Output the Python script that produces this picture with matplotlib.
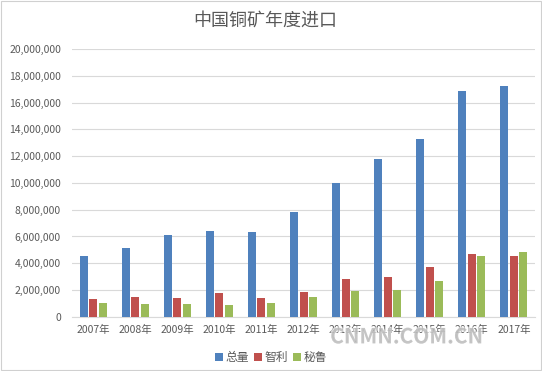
import matplotlib.pyplot as plt
import numpy as np
from matplotlib.ticker import FuncFormatter, MultipleLocator
from matplotlib.patches import Rectangle
import matplotlib.patheffects as pe

plt.rcParams['font.family'] = ['Noto Sans CJK SC', 'DejaVu Sans']

years = ['2007年', '2008年', '2009年', '2010年', '2011年', '2012年',
         '2013年', '2014年', '2015年', '2016年', '2017年']
total = [4530000, 5170000, 6120000, 6420000, 6340000, 7840000,
         10020000, 11790000, 13260000, 16870000, 17240000]
chile = [1340000, 1490000, 1420000, 1790000, 1420000, 1870000,
         2810000, 2990000, 3710000, 4720000, 4570000]
peru = [1040000, 990000, 990000, 900000, 1040000, 1490000,
        1940000, 1990000, 2660000, 4530000, 4870000]
series_names = ['总量', '智利', '秘鲁']
colors = ['#4F81BD', '#C0504D', '#9BBB59']

fig = plt.figure(figsize=(5.42, 3.71), dpi=100)
ax = fig.add_axes([0.133, 0.146, 0.854, 0.722])

x = np.arange(len(years))
w = 0.19
step = 0.225
for i, (vals, name) in enumerate(zip([total, chile, peru], series_names)):
    ax.bar(x + (i - 1) * step, vals, width=w, color=colors[i], label=name, zorder=3)

ax.set_xlim(-0.5, len(years) - 0.5)
ax.set_ylim(0, 20000000)
ax.yaxis.set_major_locator(MultipleLocator(2000000))
ax.yaxis.set_major_formatter(FuncFormatter(lambda v, p: f'{int(v):,}'))
ax.set_xticks(x)
ax.set_xticklabels(years)
ax.grid(axis='y', color='#D9D9D9', linewidth=0.8, zorder=0)
for s in ['top', 'right', 'left']:
    ax.spines[s].set_visible(False)
ax.spines['bottom'].set_color('#D9D9D9')
ax.tick_params(axis='both', length=0, labelsize=7.5, colors='#595959')
ax.tick_params(axis='x', pad=6)
ax.tick_params(axis='y', pad=8)

fig.text(0.49, 0.945, '中国铜矿年度进口', ha='center', va='center',
         fontsize=13, color='#595959', fontweight='medium')

fig.legend(loc='center', bbox_to_anchor=(0.5, 0.037), ncol=3, frameon=False,
           fontsize=8.5, handlelength=0.7, handleheight=0.7, handletextpad=0.2,
           columnspacing=0.4, labelcolor='#595959')

# watermark
fig.text(0.75, 0.092, 'CNMN.COM.CN', ha='center', va='center', fontsize=15,
         color='#A8A8A8', alpha=0.55, fontweight='bold',
         path_effects=[pe.withStroke(linewidth=2, foreground='white', alpha=0.6)])

fig.patches.append(Rectangle((0.002, 0.002), 0.996, 0.996, transform=fig.transFigure,
                             fill=False, edgecolor='#D0D0D0', linewidth=0.8))

fig.savefig('out.png', dpi=100)
